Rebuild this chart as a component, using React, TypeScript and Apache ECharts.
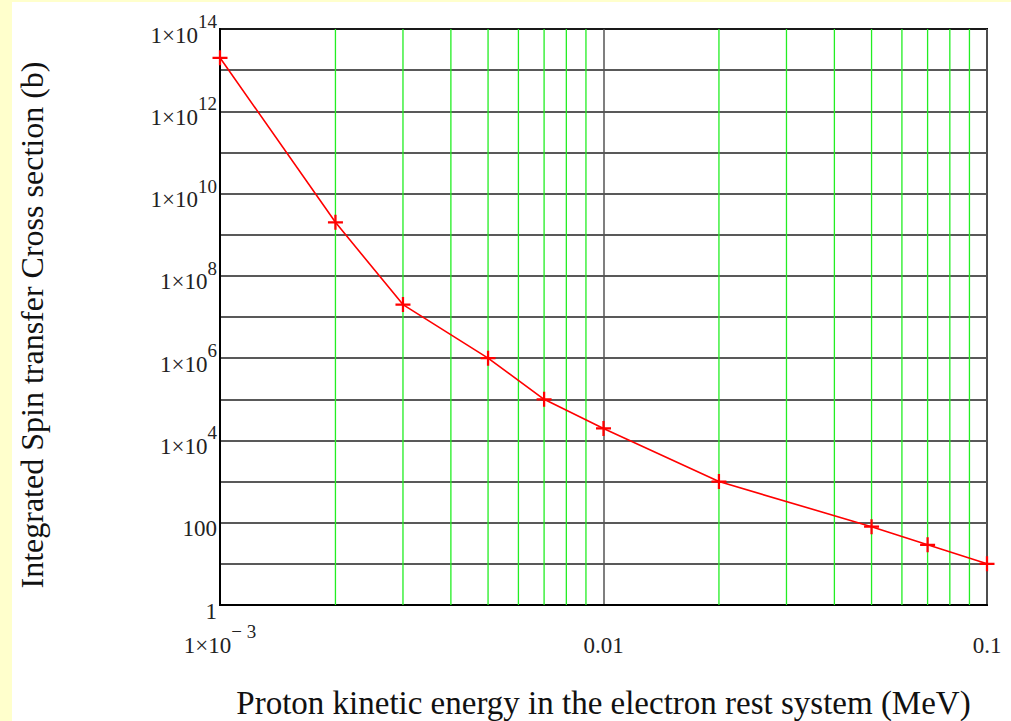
import React, { useEffect, useRef } from "react";
import * as echarts from "echarts";

const energies = [0.001, 0.002, 0.003, 0.005, 0.007, 0.01, 0.02, 0.05, 0.07, 0.1];
const crossSections = [2.0e13, 2.0e9, 2.0e7, 1.0e6, 1.0e5, 1.95e4, 1.0e3, 80, 29, 10];
const minorXGrid = [0.002, 0.003, 0.004, 0.005, 0.006, 0.007, 0.008, 0.009, 0.02, 0.03, 0.04, 0.05, 0.06, 0.07, 0.08, 0.09];
const yRange = [1, 1e14];
const xRange = [0.001, 0.1];
const xTitle = "Proton kinetic energy in the electron rest system (MeV)";
const yTitle = "Integrated Spin transfer Cross section (b)";

const FONT = "'Liberation Serif', 'DejaVu Serif', serif";
const TXT = "#222";

export default function App() {
  const ref = useRef<HTMLDivElement>(null);
  useEffect(() => {
    document.body.style.margin = "0";
    document.body.style.background = "#FFFFCC";
    const chart = echarts.init(ref.current!, null, { renderer: "svg" });
    const plus = "path://M0,8.5H8.5V0H11.5V8.5H20V11.5H11.5V20H8.5V11.5H0Z";
    const rich = {
      b: { fontFamily: FONT, fontSize: 23, lineHeight: 46, color: TXT },
      s: { fontFamily: FONT, fontSize: 19, lineHeight: 16, color: TXT, verticalAlign: "top" },
    };
    chart.setOption({
      animation: false,
      backgroundColor: "#ffffff",
      graphic: [
        {
          type: "text",
          x: 20,
          y: 323,
          rotation: Math.PI / 2,
          style: {
            text: yTitle,
            fontFamily: FONT,
            fontSize: 32,
            fill: "#111",
            align: "center",
            verticalAlign: "middle",
          },
        },
      ],
      grid: {
        left: 208,
        top: 27,
        right: 24,
        bottom: 116,
        show: true,
        borderColor: "#000",
        borderWidth: 2,
        backgroundColor: "#fff",
        outerBoundsMode: "none",
        containLabel: false,
      },
      xAxis: {
        type: "log",
        logBase: 10,
        min: xRange[0],
        max: xRange[1],
        interval: 1,
        name: xTitle,
        nameLocation: "middle",
        nameGap: 81,
        nameTextStyle: { fontFamily: FONT, fontSize: 33, color: "#111" },
        axisLine: { show: true, lineStyle: { color: "#000", width: 2 } },
        axisTick: { show: false },
        splitLine: { show: true, lineStyle: { color: "#555", width: 1.5 } },
        axisLabel: {
          margin: 5,
          padding: [12, 0, 0, 0],
          fontFamily: FONT,
          fontSize: 23,
          color: TXT,
          formatter: (v: number) => {
            const e = Math.round(Math.log10(v));
            if (e === -3) return "{b|1×10}{s|− 3}";
            if (e === -2) return "{b|0.01}";
            return "{b|0.1}";
          },
          rich,
        },
      },
      yAxis: {
        type: "log",
        logBase: 10,
        min: yRange[0],
        max: yRange[1],
        interval: 1,
        axisLine: { show: true, lineStyle: { color: "#000", width: 2 } },
        axisTick: { show: false },
        splitLine: { show: true, lineStyle: { color: "#222", width: 1.5 } },
        axisLabel: {
          margin: 3,
          padding: [12, 0, 0, 0],
          fontFamily: FONT,
          fontSize: 23,
          color: TXT,
          formatter: (v: number) => {
            const e = Math.round(Math.log10(v));
            if (e % 2 !== 0) return "";
            if (e === 0) return "{b|1}";
            if (e === 2) return "{b|100}";
            return "{b|1×10}{s|" + e + "}";
          },
          rich,
        },
      },
      series: [
        {
          type: "custom",
          z: 1,
          silent: true,
          data: minorXGrid.map((v) => [v]),
          encode: { x: 0 },
          renderItem: (params: any, api: any) => {
            const x = api.value(0);
            const p1 = api.coord([x, yRange[0]]);
            const p2 = api.coord([x, yRange[1]]);
            return {
              type: "line",
              shape: { x1: p1[0], y1: p1[1], x2: p2[0], y2: p2[1] },
              style: { stroke: "#22ee22", lineWidth: 1.3 },
            };
          },
        },
        {
          type: "line",
          z: 3,
          data: energies.map((e, i) => [e, crossSections[i]]),
          lineStyle: { color: "#ff0000", width: 1.6 },
          itemStyle: { color: "#ff0000" },
          symbol: plus,
          symbolSize: 15,
          showSymbol: true,
        },
      ],
    });
    return () => chart.dispose();
  }, []);
  return (
    <div
      ref={ref}
      style={{ position: "absolute", left: 12, top: 2, width: 999, height: 719 }}
    />
  );
}
